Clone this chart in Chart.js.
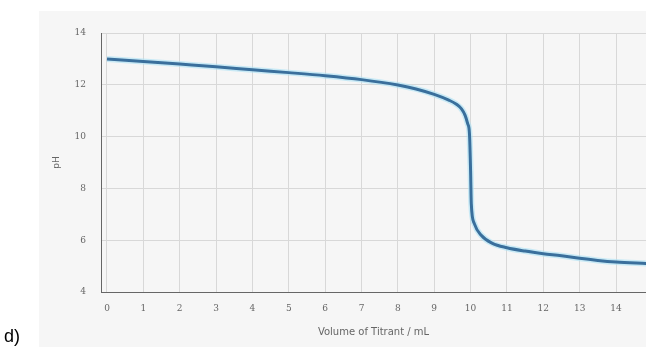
<!DOCTYPE html>
<html>
<head>
<meta charset="utf-8">
<script src="https://cdn.jsdelivr.net/npm/chart.js@4/dist/chart.umd.min.js"></script>
<style>
  html,body{margin:0;padding:0;background:#fff;width:646px;height:347px;overflow:hidden;}
  #bg{position:absolute;left:39px;top:11px;width:607px;height:336px;background:#f6f6f6;}
  #wrap{position:absolute;left:0;top:0;width:646px;height:347px;}
  #lbl{position:absolute;left:4px;top:326px;font-family:"Liberation Sans",Arial,sans-serif;font-size:18px;color:#000;}
</style>
</head>
<body>
<div id="bg"></div>
<div id="wrap"><canvas id="c" width="646" height="347"></canvas></div>
<div id="lbl">d)</div>
<script>
const volumes = [0,1,2,3,4,5,6,7,8,8.5,9,9.4,9.6,9.75,9.85,9.92,9.97,10.0,10.02,10.1,10.3,10.6,11,11.5,12,12.5,13,13.5,14,14.83];
const phValues = [13.0,12.9,12.8,12.7,12.58,12.47,12.35,12.2,11.99,11.84,11.63,11.41,11.26,11.07,10.82,10.5,10.1,8.7,7.4,6.65,6.18,5.88,5.71,5.58,5.48,5.4,5.3,5.22,5.16,5.1];
const xTicks = [0,1,2,3,4,5,6,7,8,9,10,11,12,13,14];
const yTicks = [4,6,8,10,12,14];
const xTitle = 'Volume of Titrant / mL';
const yTitle = 'pH';

const points = volumes.map((v,i)=>({x:v,y:phValues[i]}));
const tickFont = {family:'"DejaVu Serif", serif', size:9};

new Chart(document.getElementById('c'), {
  type:'line',
  data:{datasets:[
    {data:points, borderColor:'#3a6f9c', borderWidth:3, pointRadius:0, cubicInterpolationMode:'monotone', fill:false},
    {data:points, borderColor:'rgba(170,225,245,0.6)', borderWidth:6, pointRadius:0, cubicInterpolationMode:'monotone', fill:false}
  ]},
  options:{
    responsive:false, animation:false, devicePixelRatio:1,
    layout:{padding:{left:40,top:33,right:0,bottom:0}},
    plugins:{legend:{display:false}, tooltip:{enabled:false}},
    scales:{
      x:{type:'linear', min:-0.165, max:14.825,
        afterBuildTicks:(s)=>{s.ticks = xTicks.map(v=>({value:v}));},
        afterFit:(s)=>{s.height=55;},
        grid:{color:'#d8d8d8', drawTicks:false},
        border:{color:'#666', width:1},
        ticks:{color:'#666', font:tickFont, padding:11, maxRotation:0, autoSkip:false},
        title:{display:true, text:xTitle, color:'#666', font:{family:'"DejaVu Sans", sans-serif', size:10}, padding:{bottom:9,top:0}}
      },
      y:{type:'linear', min:4, max:14,
        afterBuildTicks:(s)=>{s.ticks = yTicks.map(v=>({value:v}));},
        afterFit:(s)=>{s.width=61;},
        grid:{color:'#d8d8d8', drawTicks:false},
        border:{color:'#666', width:1},
        ticks:{color:'#666', font:tickFont, padding:15},
        title:{display:true, text:yTitle, color:'#666', font:{family:'"DejaVu Sans", sans-serif', size:9}, padding:{top:11,bottom:0}}
      }
    }
  }
});
</script>
</body>
</html>
